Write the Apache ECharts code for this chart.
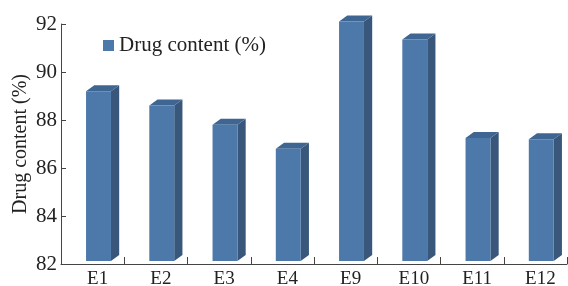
<!DOCTYPE html>
<html>
<head>
<meta charset="utf-8">
<script src="https://cdn.jsdelivr.net/npm/echarts@6/dist/echarts.min.js"></script>
<style>
  html, body { margin: 0; padding: 0; background: #fff; }
  #chart { width: 568px; height: 286px; }
</style>
</head>
<body>
<div id="chart"></div>
<script>
// data
var categories = ['E1', 'E2', 'E3', 'E4', 'E9', 'E10', 'E11', 'E12'];
var drugContent = [89.2, 88.6, 87.8, 86.8, 92.1, 91.35, 87.25, 87.2];
var yTicks = { min: 82, max: 92, step: 2 };

var FONT = '"Liberation Serif", "Times New Roman", serif';

// 3d-ish bar: front face + side + top
function renderBar (params, api) {
  var idx = api.value(0);
  var val = api.value(1);
  var top = api.coord([idx, val]);
  var base = api.coord([idx, yTicks.min]);
  var band = api.size([1, 0])[0];
  var x0 = top[0] - band * 0.104;
  var x1 = x0 + band * 0.394;
  var dx = band * 0.13, dy = 6;
  var yT = top[1], yB = base[1] - 3;
  return {
    type: 'group',
    children: [
      {
        type: 'polygon',
        shape: { points: [[x1, yT], [x1 + dx, yT - dy], [x1 + dx, yB - dy], [x1, yB]] },
        style: { fill: '#38577b' }
      },
      {
        type: 'polygon',
        shape: { points: [[x0, yT], [x0 + dx, yT - dy], [x1 + dx, yT - dy], [x1, yT]] },
        style: { fill: '#3f6692' }
      },
      {
        type: 'rect',
        shape: { x: x0, y: yT, width: x1 - x0, height: yB - yT },
        style: { fill: '#4c78aa' }
      }
    ]
  };
}

var chart = echarts.init(document.getElementById('chart'));
chart.setOption({
  animation: false,
  grid: { left: 61, right: 1, top: 24, bottom: 22, containLabel: false, outerBoundsMode: 'none' },
  legend: {
    left: 98, top: 30,
    icon: 'rect', itemWidth: 11, itemHeight: 11, itemGap: 7,
    textStyle: { fontFamily: FONT, fontSize: 21, color: '#222' },
    data: ['Drug content (%)']
  },
  xAxis: {
    type: 'category',
    data: categories,
    axisLine: { lineStyle: { color: '#444', width: 1 } },
    axisTick: { show: true, inside: true, length: 7, lineStyle: { color: '#444' } },
    axisLabel: { fontFamily: FONT, fontSize: 19, color: '#222', margin: 6, padding: [0, 0, 0, 10] }
  },
  yAxis: {
    type: 'value',
    min: yTicks.min, max: yTicks.max, interval: yTicks.step,
    name: 'Drug content (%)',
    nameLocation: 'middle',
    nameGap: 30,
    nameMoveOverlap: false,
    nameTextStyle: { fontFamily: FONT, fontSize: 20, color: '#222' },
    axisLine: { show: true, lineStyle: { color: '#444', width: 1 } },
    axisTick: { show: true, inside: true, length: 5, lineStyle: { color: '#444' } },
    axisLabel: { fontFamily: FONT, fontSize: 21, color: '#222', margin: 4 },
    splitLine: { show: false }
  },
  series: [{
    name: 'Drug content (%)',
    type: 'custom',
    itemStyle: { color: '#4c78aa' },
    renderItem: renderBar,
    encode: { x: 0, y: 1 },
    data: drugContent.map(function (v, i) { return [i, v]; })
  }]
});
</script>
</body>
</html>
